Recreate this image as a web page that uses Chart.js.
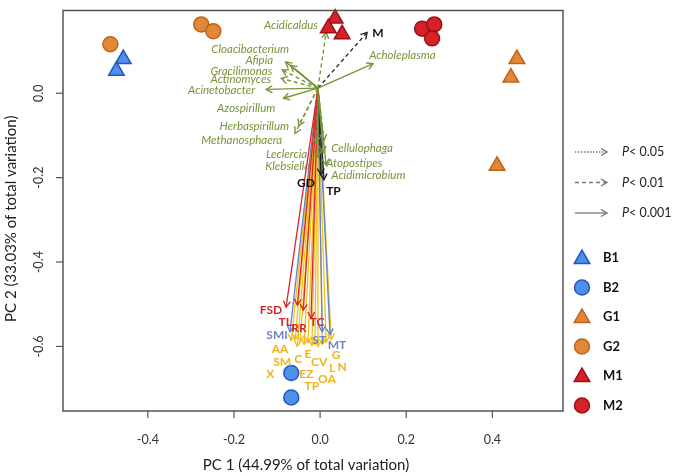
<!DOCTYPE html>
<html>
<head>
<meta charset="utf-8">
<script src="https://cdn.jsdelivr.net/npm/chart.js@4.4.1/dist/chart.umd.min.js"></script>
<style>
  html, body { margin: 0; padding: 0; background: #fff; }
  canvas { display: block; }
</style>
</head>
<body>
<canvas id="pca" width="680" height="476"></canvas>
<script>
// ---- sample scores (PC1, PC2) ----
const B1 = [[-0.457, 0.081], [-0.473, 0.053]];
const B2 = [[-0.067, -0.663], [-0.067, -0.721]];
const G1 = [[0.457, 0.081], [0.443, 0.037], [0.411, -0.172]];
const G2 = [[-0.487, 0.116], [-0.276, 0.163], [-0.248, 0.147]];
const M1 = [[0.035, 0.177], [0.019, 0.154], [0.051, 0.140]];
const M2 = [[0.237, 0.153], [0.265, 0.163], [0.260, 0.130]];

// vectors start here (slightly off 0,0 in the figure)
const vecOrigin = [-0.005, 0.012];

// ---- fitted genus vectors ----
const taxaNames = ['Acidicaldus', 'Cloacibacterium', 'Afipia', 'Gracilimonas', 'Actinomyces',
  'Acinetobacter', 'Azospirillum', 'Herbaspirillum', 'Methanosphaera', 'Leclercia',
  'Klebsiella', 'Cellulophaga', 'Atopostipes', 'Acidimicrobium', 'Acholeplasma'];
const taxaX = [0.014, -0.068, -0.080, -0.088, -0.090, -0.125, -0.085, -0.050, -0.058,
  -0.009, -0.005, 0.009, 0.007, 0.014, 0.123];
const taxaY = [0.144, 0.066, 0.074, 0.055, 0.035, 0.009, -0.012, -0.077, -0.095,
  -0.119, -0.151, -0.112, -0.140, -0.170, 0.070];
const taxaSig = ['p01', 'p001', 'p001', 'p01', 'p01', 'p001', 'p001', 'p01', 'p01',
  'p01', 'p001', 'p01', 'p001', 'p001', 'p001'];
const taxaLabelX = [-0.005, -0.072, -0.109, -0.111, -0.114, -0.151, -0.104, -0.072, -0.088,
  -0.030, -0.023, 0.026, 0.014, 0.026, 0.114];
const taxaLabelY = [0.160, 0.105, 0.077, 0.053, 0.033, 0.007, -0.035, -0.079, -0.112,
  -0.144, -0.174, -0.130, -0.165, -0.195, 0.091];

// ---- other fitted vectors (black) ----
const otherNames = ['M', 'GD', 'TP'];
const otherX = [0.109, 0.002, 0.009];
const otherY = [0.144, -0.193, -0.205];
const otherSig = ['p01', 'p001', 'p001'];
const otherLabelX = [0.121, -0.012, 0.014];
const otherLabelY = [0.142, -0.212, -0.233];

// ---- environmental vectors ----
const envNames = ['FSD', 'TL', 'RR', 'TC', 'SMI', 'ST', 'MT', 'AA', 'C', 'E', 'SM',
  'X', 'EZ', 'TP', 'CV', 'OA', 'L', 'N', 'G'];
const envGroup = ['r', 'r', 'r', 'r', 'b', 'b', 'b', 'y', 'y', 'y', 'y',
  'y', 'y', 'y', 'y', 'y', 'y', 'y', 'y'];
const envX = [-0.079, -0.053, -0.039, -0.021, -0.070, 0.005, 0.023, -0.067, -0.053, -0.028, -0.046,
  -0.058, -0.037, -0.019, -0.012, -0.005, 0.005, 0.014, 0.026];
const envY = [-0.507, -0.502, -0.514, -0.533, -0.565, -0.565, -0.572, -0.586, -0.600, -0.591, -0.588,
  -0.584, -0.595, -0.598, -0.595, -0.600, -0.595, -0.591, -0.584];
const envLabelX = [-0.114, -0.081, -0.049, -0.007, -0.100, -0.002, 0.039, -0.093, -0.051, -0.028, -0.088,
  -0.116, -0.032, -0.019, -0.002, 0.016, 0.028, 0.051, 0.037];
const envLabelY = [-0.514, -0.542, -0.556, -0.542, -0.574, -0.586, -0.598, -0.607, -0.630, -0.619, -0.637,
  -0.665, -0.665, -0.693, -0.637, -0.677, -0.651, -0.649, -0.621];

// ---- axes ----
const xTicks = [-0.4, -0.2, 0.0, 0.2, 0.4];
const yTicks = [0.0, -0.2, -0.4, -0.6];
const xTitle = 'PC 1 (44.99% of total variation)';
const yTitle = 'PC 2 (33.03% of total variation)';
const sigLegend = [['p05', '< 0.05'], ['p01', '< 0.01'], ['p001', '< 0.001']];

// ---- styles ----
const GREEN = '#76953a';
const groupStyle = {
  B1: { shape: 'triangle', fill: '#4f8fe8', edge: '#2457c4' },
  B2: { shape: 'circle', fill: '#4f8fe8', edge: '#2457c4' },
  G1: { shape: 'triangle', fill: '#e08838', edge: '#bf6418' },
  G2: { shape: 'circle', fill: '#e08838', edge: '#bf6418' },
  M1: { shape: 'triangle', fill: '#d42228', edge: '#9c1016' },
  M2: { shape: 'circle', fill: '#d42228', edge: '#9c1016' }
};
const envColor = { r: '#d9262c', b: '#6283c4', y: '#f0c020' };
const envLabelColor = { r: '#d4242a', b: '#6a86c2', y: '#eeb418' };
const dashFor = { p05: [1.5, 1.5], p01: [4, 3], p001: [] };

const pts = arr => arr.map(p => ({ x: p[0], y: p[1] }));

const datasets = [];
const sampleData = { B1, B2, G1, G2, M1, M2 };
Object.keys(sampleData).forEach(g => {
  const s = groupStyle[g];
  datasets.push({
    label: g, data: pts(sampleData[g]), order: 0, clip: false,
    pointStyle: s.shape, pointRadius: s.shape === 'triangle' ? 9 : 7.5,
    backgroundColor: s.fill, borderColor: s.edge, borderWidth: 1.5
  });
});

function arrow(name, x, y, color, dash, width, order) {
  datasets.push({
    label: name, data: [{ x: vecOrigin[0], y: vecOrigin[1] }, { x: x, y: y }], showLine: true,
    borderColor: color, borderWidth: width, borderDash: dash,
    pointRadius: 0, clip: false, order: order, arrowHead: true
  });
}
// yellow under blue under red
envNames.forEach((n, i) => {
  const g = envGroup[i];
  arrow(n, envX[i], envY[i], envColor[g], [], 1.3, g === 'y' ? 4 : g === 'b' ? 3 : 2);
});
taxaNames.forEach((n, i) => arrow(n, taxaX[i], taxaY[i], GREEN, dashFor[taxaSig[i]], 1.4, 1));
otherNames.forEach((n, i) => arrow(n, otherX[i], otherY[i], '#222', dashFor[otherSig[i]], 1.4, 1));

function drawHead(ctx, x0, y0, x1, y1, color, len) {
  const a = Math.atan2(y1 - y0, x1 - x0);
  ctx.save();
  ctx.setLineDash([]);
  ctx.strokeStyle = color;
  ctx.lineWidth = 1.4;
  ctx.beginPath();
  ctx.moveTo(x1 - len * Math.cos(a - Math.PI / 6), y1 - len * Math.sin(a - Math.PI / 6));
  ctx.lineTo(x1, y1);
  ctx.lineTo(x1 - len * Math.cos(a + Math.PI / 6), y1 - len * Math.sin(a + Math.PI / 6));
  ctx.stroke();
  ctx.restore();
}

function drawMarker(ctx, shape, x, y, s) {
  ctx.save();
  ctx.fillStyle = s.fill;
  ctx.strokeStyle = s.edge;
  ctx.lineWidth = 1.5;
  ctx.beginPath();
  if (shape === 'circle') {
    ctx.arc(x, y, 7.5, 0, Math.PI * 2);
  } else {
    const r = 9;
    ctx.moveTo(x, y - r);
    ctx.lineTo(x + r * Math.sqrt(3) / 2, y + r / 2);
    ctx.lineTo(x - r * Math.sqrt(3) / 2, y + r / 2);
    ctx.closePath();
  }
  ctx.fill();
  ctx.stroke();
  ctx.restore();
}

const biplotPlugin = {
  id: 'biplot',
  afterDatasetDraw(chart, args) {
    const ds = chart.data.datasets[args.index];
    if (!ds.arrowHead) return;
    const p0 = args.meta.data[0], p1 = args.meta.data[1];
    drawHead(chart.ctx, p0.x, p0.y, p1.x, p1.y, ds.borderColor, 7);
  },
  afterDraw(chart) {
    const ctx = chart.ctx;
    const xs = chart.scales.x, ys = chart.scales.y;
    const a = chart.chartArea;
    ctx.save();

    // labels for vectors
    ctx.textBaseline = 'middle';
    ctx.font = 'italic 11.5px Lato';
    ctx.fillStyle = GREEN;
    taxaNames.forEach((n, i) => {
      ctx.textAlign = taxaLabelX[i] < 0 ? 'right' : 'left';
      ctx.fillText(n, xs.getPixelForValue(taxaLabelX[i]), ys.getPixelForValue(taxaLabelY[i]));
    });
    ctx.font = 'bold 12px Lato';
    ctx.fillStyle = '#111';
    otherNames.forEach((n, i) => {
      ctx.textAlign = otherLabelX[i] < 0 ? 'right' : 'left';
      ctx.fillText(n, xs.getPixelForValue(otherLabelX[i]), ys.getPixelForValue(otherLabelY[i]));
    });
    ctx.font = 'bold 12px Lato';
    ctx.textAlign = 'center';
    envNames.forEach((n, i) => {
      ctx.fillStyle = envLabelColor[envGroup[i]];
      ctx.fillText(n, xs.getPixelForValue(envLabelX[i]), ys.getPixelForValue(envLabelY[i]));
    });

    // box
    ctx.strokeStyle = '#555';
    ctx.lineWidth = 1.5;
    ctx.strokeRect(a.left, a.top, a.right - a.left, a.bottom - a.top);

    // ticks
    ctx.lineWidth = 1.2;
    ctx.fillStyle = '#333';
    ctx.font = '12.5px Lato';
    ctx.textAlign = 'center';
    ctx.textBaseline = 'middle';
    xTicks.forEach(t => {
      const px = xs.getPixelForValue(t);
      ctx.beginPath();
      ctx.moveTo(px, a.bottom);
      ctx.lineTo(px, a.bottom + 7);
      ctx.stroke();
      ctx.fillText(t.toFixed(1), px, a.bottom + 29);
    });
    yTicks.forEach(t => {
      const py = ys.getPixelForValue(t);
      ctx.beginPath();
      ctx.moveTo(a.left, py);
      ctx.lineTo(a.left - 7, py);
      ctx.stroke();
      ctx.save();
      ctx.translate(a.left - 24, py);
      ctx.rotate(-Math.PI / 2);
      ctx.fillText(t.toFixed(1), 0, 0);
      ctx.restore();
    });

    // axis titles
    ctx.font = '15px Lato';
    ctx.fillStyle = '#222';
    ctx.fillText(xTitle, (a.left + a.right) / 2 - 7, a.bottom + 54);
    ctx.save();
    ctx.translate(11, (a.top + a.bottom) / 2 + 8);
    ctx.rotate(-Math.PI / 2);
    ctx.fillText(yTitle, 0, 0);
    ctx.restore();

    // legend: significance line types
    const lx = a.right + 12;
    sigLegend.forEach((s, i) => {
      const y = 152 + i * 30.5;
      ctx.save();
      ctx.strokeStyle = '#777';
      ctx.lineWidth = 1.3;
      ctx.setLineDash(dashFor[s[0]]);
      ctx.beginPath();
      ctx.moveTo(lx, y);
      ctx.lineTo(lx + 31, y);
      ctx.stroke();
      ctx.restore();
      drawHead(ctx, lx, y, lx + 32, y, '#777', 7);
      ctx.textAlign = 'left';
      ctx.fillStyle = '#222';
      ctx.font = 'italic 12.5px Lato';
      ctx.fillText('P', lx + 47, y);
      const pw = ctx.measureText('P').width;
      ctx.font = '12.5px Lato';
      ctx.fillText(s[1], lx + 47 + pw, y);
    });

    // legend: sample groups
    Object.keys(groupStyle).forEach((g, i) => {
      const y = 258 + i * 29.5;
      drawMarker(ctx, groupStyle[g].shape, a.right + 19, y + (groupStyle[g].shape === 'triangle' ? 1 : 0), groupStyle[g]);
      ctx.font = 'bold 13px Lato';
      ctx.fillStyle = '#111';
      ctx.textAlign = 'left';
      ctx.fillText(g, a.right + 40, y);
    });
    ctx.restore();
  }
};

new Chart(document.getElementById('pca'), {
  type: 'scatter',
  data: { datasets: datasets },
  options: {
    responsive: false,
    animation: false,
    devicePixelRatio: 1,
    layout: { padding: { left: 63, right: 117, top: 3, bottom: 65 } },
    plugins: { legend: { display: false }, tooltip: { enabled: false } },
    scales: {
      x: { type: 'linear', min: -0.597, max: 0.564, display: false },
      y: { type: 'linear', min: -0.753, max: 0.196, display: false }
    }
  },
  plugins: [biplotPlugin]
});
</script>
</body>
</html>
